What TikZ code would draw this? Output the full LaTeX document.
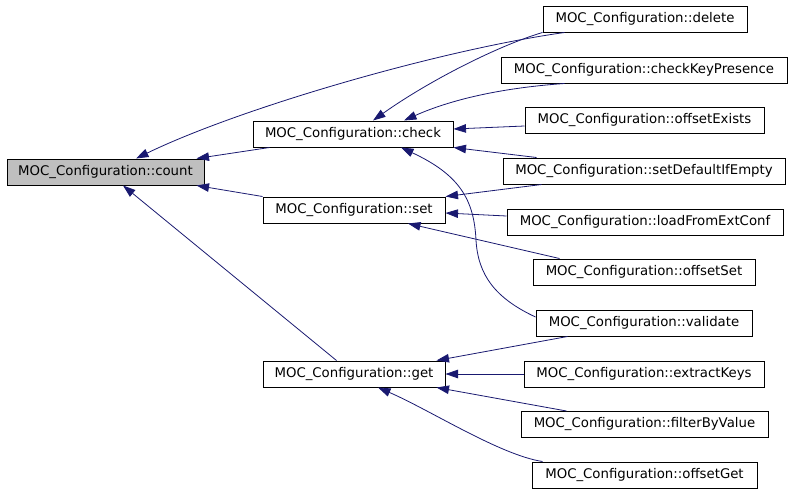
\documentclass[tikz,border=0pt]{standalone}
\usepackage{fontspec}
\setmainfont{DejaVu Sans}
\usetikzlibrary{arrows.meta,calc}
\definecolor{edgeblue}{HTML}{191970}
\definecolor{nodegray}{RGB}{191,191,191}
\begin{document}
\begin{tikzpicture}[x=1pt,y=-1pt,
  fn/.style={draw=black,line width=1pt,rectangle,inner sep=0pt,minimum height=26pt,
    font=\fontsize{13.3}{16}\selectfont,text=black},
  edge/.style={draw=edgeblue,line width=0.8pt,-{Triangle[length=12.5pt,width=8.5pt]}}]
\useasboundingbox (0,0) rectangle (792,493);
% nodes
\node[fn,fill=nodegray,minimum width=197pt] (count) at (105.5,172) {MOC\_Configuration::count};
\node[fn,minimum width=200pt] (check) at (353,134) {MOC\_Configuration::check};
\node[fn,minimum width=182pt] (set) at (354,210) {MOC\_Configuration::set};
\node[fn,minimum width=182pt] (get) at (354,374) {MOC\_Configuration::get};
\node[fn,minimum width=204pt] (delete) at (645,19) {MOC\_Configuration::delete};
\node[fn,minimum width=286pt] (ckp) at (644,70) {MOC\_Configuration::checkKeyPresence};
\node[fn,minimum width=239pt] (oex) at (644.5,120) {MOC\_Configuration::offsetExists};
\node[fn,minimum width=282pt] (sdie) at (644,171) {MOC\_Configuration::setDefaultIfEmpty};
\node[fn,minimum width=276pt] (lfec) at (645,222) {MOC\_Configuration::loadFromExtConf};
\node[fn,minimum width=222pt] (oset) at (644,272) {MOC\_Configuration::offsetSet};
\node[fn,minimum width=216pt] (valid) at (644,323) {MOC\_Configuration::validate};
\node[fn,minimum width=240pt] (ekeys) at (644,374) {MOC\_Configuration::extractKeys};
\node[fn,minimum width=247pt] (fbv) at (644.5,424.5) {MOC\_Configuration::filterByValue};
\node[fn,minimum width=225pt] (oget) at (644.5,475) {MOC\_Configuration::offsetGet};
% edges to count
\draw[edge] ($(check.south west)+(17,0)$) -- ($(count.north east)+(-8,0)$);
\draw[edge] (set.north west) -- ($(count.south east)+(-8,0)$);
\draw[edge] ($(get.north west)+(74,0)$) -- ($(count.south)+(17.5,0)$);
\draw[edge] ($(delete.south west)+(22,0)$) .. controls (440,50) and (240,108) .. ($(count.north)+(30.5,0)$);
% edges to check
\draw[edge] (delete.south west) .. controls (500,45) and (430,80) .. ($(check.north)+(20,0)$);
\draw[edge] ($(ckp.south west)+(64,0)$) .. controls (500,88) and (450,100) .. ($(check.north)+(51,0)$);
\draw[edge] ($(oex.west)+(0,6)$) -- ($(check.east)+(0,-5)$);
\draw[edge] ($(sdie.north west)+(34,0)$) -- (check.south east);
\draw[edge] ($(valid.west)+(0,-6)$) .. controls (495,298) and (478,275) .. (476,240)
  .. controls (474,200) and (460,175) .. ($(check.south)+(48,0)$);
% edges to set
\draw[edge] ($(sdie.south west)+(39,0)$) -- (set.north east);
\draw[edge] ($(lfec.west)+(0,-6)$) -- ($(set.east)+(0,3)$);
\draw[edge] ($(oset.north west)+(27,0)$) -- ($(set.south)+(54,0)$);
% edges to get
\draw[edge] ($(valid.south west)+(32,0)$) -- ($(get.north east)+(-9,0)$);
\draw[edge] (ekeys.west) -- (get.east);
\draw[edge] ($(fbv.north west)+(46,0)$) -- ($(get.south east)+(-9,0)$);
\draw[edge] ($(oget.north west)+(11,0)$) .. controls (500,455) and (430,410) .. ($(get.south)+(24,0)$);
\end{tikzpicture}
\end{document}
